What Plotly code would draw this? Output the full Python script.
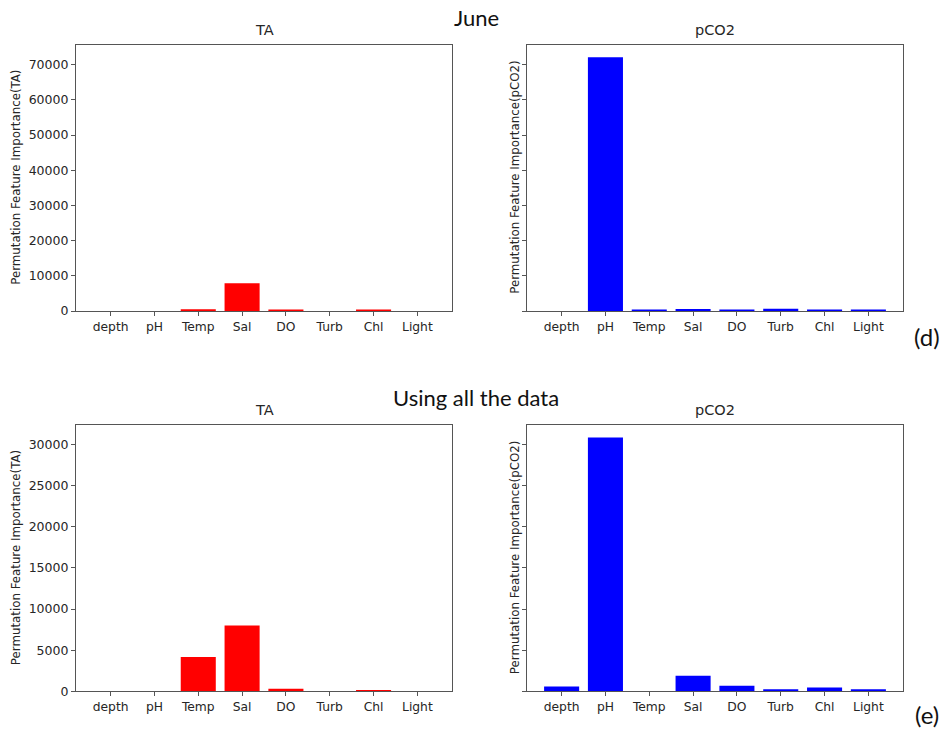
import plotly.graph_objects as go

# Features used by the models
features = ["depth", "pH", "Temp", "Sal", "DO", "Turb", "Chl", "Light"]

# Permutation feature importance, June subset
june_ta = [0, 0, 500, 7900, 150, 0, 150, 0]
june_pco2 = [0, 72100, 300, 560, 300, 650, 400, 150]

# Permutation feature importance, all data
all_ta = [0, 0, 4180, 8000, 320, 0, 100, 30]
all_pco2 = [600, 30850, 50, 1890, 680, 240, 480, 240]

row_titles = ["June", "Using all the data"]
panel_tags = ["(d)", "(e)"]
col_titles = ["TA", "pCO2"]
tick_steps = [10000, 5000]

W, H = 943, 734
RED, BLUE = "#ff0000", "#0000ff"
TXT = "#262626"
LINE = "#555555"

# panel boxes in pixels: (left, right, top, bottom)
cols_px = [(76, 452), (527, 903)]
rows_px = [(45, 314), (429, 698)]
title_y = [18, 401]
tag_y = [340, 721]

fig = go.Figure()
rows_data = [(june_ta, june_pco2), (all_ta, all_pco2)]

for r, (ta, pco2) in enumerate(rows_data):
    ymax = 1.05 * max(max(ta), max(pco2))
    top, bot = rows_px[r]
    for c, vals in enumerate((ta, pco2)):
        idx = r * 2 + c + 1
        xa = "x" if idx == 1 else f"x{idx}"
        ya = "y" if idx == 1 else f"y{idx}"
        fig.add_trace(go.Bar(
            x=features, y=vals, xaxis=xa, yaxis=ya, width=0.8,
            marker=dict(color=RED if c == 0 else BLUE, line=dict(width=0)),
            showlegend=False,
        ))
        left, right = cols_px[c]
        xkey = "xaxis" if idx == 1 else f"xaxis{idx}"
        ykey = "yaxis" if idx == 1 else f"yaxis{idx}"
        fig.layout[xkey] = dict(
            domain=[left / W, right / W], anchor=ya,
            type="category", range=[-0.79, 7.79],
            showline=True, mirror=True, linecolor=LINE, linewidth=1.2,
            ticks="outside", ticklen=4, tickcolor=LINE,
            tickfont=dict(family="DejaVu Sans", size=12.3, color=TXT),
            showgrid=False, zeroline=False, fixedrange=True,
        )
        fig.layout[ykey] = dict(
            domain=[1 - bot / H, 1 - top / H], anchor=xa,
            range=[0, ymax], dtick=tick_steps[r], tick0=0, tickformat="d",
            showline=True, mirror=True, linecolor=LINE, linewidth=1.2,
            ticks="outside", ticklen=4, tickcolor=LINE,
            showticklabels=(c == 0),
            tickfont=dict(family="DejaVu Sans", size=12.5, color=TXT),
            showgrid=False, zeroline=False, fixedrange=True,
        )
        # panel title
        fig.add_annotation(
            text=col_titles[c], xref="paper", yref="paper",
            x=(left + right) / 2 / W, y=1 - (top - 5) / H,
            xanchor="center", yanchor="bottom", showarrow=False,
            font=dict(family="DejaVu Sans", size=14.5, color=TXT),
        )
        # y-axis label
        lab_x = 16 if c == 0 else 515
        fig.add_annotation(
            text=f"Permutation Feature Importance({col_titles[c]})",
            xref="paper", yref="paper",
            x=lab_x / W, y=1 - (top + bot) / 2 / H,
            xanchor="center", yanchor="middle", textangle=-90, showarrow=False,
            font=dict(family="DejaVu Sans", size=11.8, color=TXT),
        )
    # row heading and panel tag
    fig.add_annotation(
        text=row_titles[r], xref="paper", yref="paper",
        x=476 / W, y=1 - title_y[r] / H,
        xanchor="center", yanchor="middle", showarrow=False,
        font=dict(family="Lato", size=22, color="#111111"),
    )
    fig.add_annotation(
        text=panel_tags[r], xref="paper", yref="paper",
        x=927 / W, y=1 - tag_y[r] / H,
        xanchor="center", yanchor="middle", showarrow=False,
        font=dict(family="Lato", size=24, color="#111111"),
    )

fig.update_layout(
    width=W, height=H,
    margin=dict(l=0, r=0, t=0, b=0),
    paper_bgcolor="white", plot_bgcolor="white",
    bargap=0.2,
)

fig.write_html("out.html")
